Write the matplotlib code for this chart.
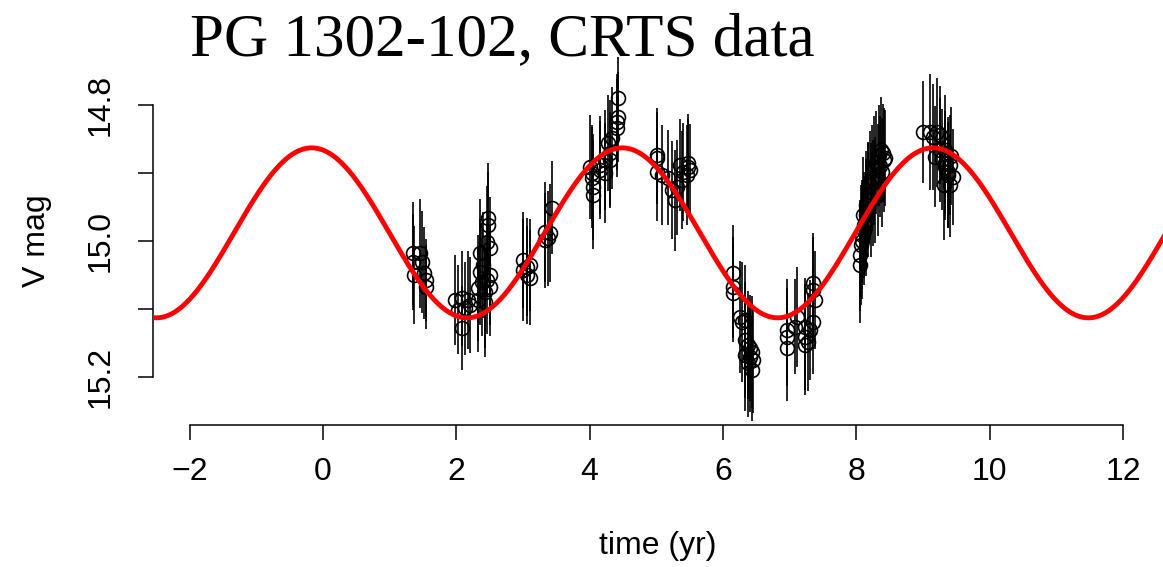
import numpy as np
import matplotlib
matplotlib.use('Agg')
from matplotlib import pyplot as plt

# CRTS light curve of PG 1302-102
t_yr = [
    # season 1
    1.35, 1.45, 1.35, 1.49, 1.36, 1.52, 1.55, 1.55,
    # season 2
    1.98, 2.085, 2.175, 2.03, 2.13, 2.20, 2.085,
    2.47, 2.47, 2.46, 2.50, 2.35, 2.35, 2.50, 2.46, 2.32, 2.43, 2.32, 2.43, 2.50, 2.40, 2.38,
    # season 3
    3.00, 3.06, 3.10, 3.00, 3.10, 3.06, 3.33, 3.40, 3.43, 3.33, 3.37,
    # season 4
    4.42, 4.42, 4.41, 4.41, 4.33, 4.27, 4.30, 4.23, 4.15, 4.00, 4.03, 4.04, 4.05, 4.05, 4.15, 4.23, 4.30,
    # season 5
    5.01, 5.01, 5.01, 5.08, 5.175, 5.24, 5.28, 5.36, 5.40, 5.47, 5.46, 5.39, 5.31, 5.47, 5.50,
    # season 6
    6.15, 6.15, 6.15, 6.28, 6.33, 6.25, 6.33, 6.375, 6.40, 6.43, 6.40, 6.45, 6.33, 6.375, 6.43,
    # season 7
    6.96, 6.96, 6.96, 7.08, 7.11, 7.23, 7.23, 7.23, 7.27, 7.35, 7.35, 7.38, 7.35, 7.30,
    # season 8
    8.05, 8.05, 8.07, 8.09, 8.12, 8.10, 8.15, 8.14, 8.18, 8.20, 8.17, 8.24, 8.27, 8.30,
    8.34, 8.37, 8.40, 8.41, 8.38, 8.33, 8.28, 8.22, 8.12, 8.08, 8.15, 8.25, 8.35, 8.43,
    # season 9
    9.00, 9.10, 9.21, 9.25, 9.15, 9.18, 9.25, 9.33, 9.33, 9.37, 9.33, 9.40, 9.45, 9.40,
    9.31, 9.37, 9.28, 9.42,
]

v_mag = [
    15.018, 15.018, 15.031, 15.031, 15.050, 15.047, 15.057, 15.068,
    15.087, 15.084, 15.087, 15.101, 15.099, 15.094, 15.128,
    14.966, 14.976, 15.001, 15.010, 15.018, 15.046, 15.050, 15.057, 15.069, 15.075, 15.087, 15.090, 15.068, 15.035, 15.060,
    15.028, 15.038, 15.035, 15.043, 15.054, 15.050, 14.999, 14.988, 14.951, 14.987, 14.996,
    14.790, 14.818, 14.825, 14.834, 14.849, 14.856, 14.871, 14.881, 14.888, 14.891, 14.900, 14.907, 14.921, 14.932, 14.896, 14.900, 14.881,
    14.874, 14.878, 14.899, 14.903, 14.907, 14.925, 14.940, 14.888, 14.899, 14.891, 14.903, 14.910, 14.921, 14.885, 14.896,
    15.047, 15.068, 15.076, 15.119, 15.116, 15.112, 15.146, 15.153, 15.157, 15.163, 15.171, 15.175, 15.168, 15.179, 15.190,
    15.131, 15.141, 15.157, 15.126, 15.112, 15.126, 15.141, 15.153, 15.149, 15.062, 15.072, 15.087, 15.119, 15.131,
    15.035, 15.021, 15.006, 14.991, 14.976, 14.962, 14.947, 14.962, 14.932, 14.918, 14.940, 14.907, 14.896, 14.885,
    14.874, 14.866, 14.871, 14.881, 14.899, 14.910, 14.925, 14.940, 14.985, 15.000, 14.970, 14.930, 14.890, 14.878,
    14.840, 14.840, 14.840, 14.844, 14.847, 14.876, 14.866, 14.866, 14.891, 14.899, 14.885, 14.888, 14.906, 14.918,
    14.918, 14.903, 14.880, 14.875,
]

v_err = [
    0.076, 0.080, 0.070, 0.075, 0.072, 0.068, 0.060, 0.062,
    0.066, 0.070, 0.072, 0.065, 0.068, 0.070, 0.062,
    0.080, 0.078, 0.082, 0.075, 0.080, 0.078, 0.074, 0.080, 0.078, 0.082, 0.076, 0.080, 0.072, 0.078, 0.080,
    0.070, 0.072, 0.068, 0.075, 0.070, 0.072, 0.070, 0.072, 0.068, 0.074, 0.070,
    0.060, 0.066, 0.070, 0.072, 0.075, 0.070, 0.078, 0.074, 0.072, 0.076, 0.070, 0.074, 0.078, 0.080, 0.072, 0.074, 0.070,
    0.070, 0.068, 0.072, 0.074, 0.070, 0.072, 0.074, 0.068, 0.072, 0.070, 0.074, 0.072, 0.070, 0.072, 0.068,
    0.070, 0.074, 0.072, 0.088, 0.080, 0.082, 0.085, 0.080, 0.078, 0.082, 0.080, 0.078, 0.082, 0.080, 0.075,
    0.075, 0.072, 0.078, 0.070, 0.074, 0.072, 0.078, 0.074, 0.072, 0.074, 0.078, 0.072, 0.076, 0.074,
    0.085, 0.082, 0.088, 0.080, 0.078, 0.085, 0.080, 0.082, 0.078, 0.080, 0.084, 0.078, 0.080, 0.076,
    0.074, 0.078, 0.072, 0.076, 0.080, 0.082, 0.078, 0.084, 0.080, 0.086, 0.082, 0.078, 0.074, 0.070,
    0.075, 0.085, 0.080, 0.072, 0.078, 0.074, 0.076, 0.080, 0.078, 0.082, 0.076, 0.074, 0.070, 0.076,
    0.080, 0.078, 0.074, 0.072,
]

# sinusoid fit drawn in red
fit_mean = 14.988
fit_amp = 0.125
fit_period = 4.66
fit_tpeak = -0.17

x_ticks = [-2, 0, 2, 4, 6, 8, 10, 12]
y_ticks = [14.8, 14.9, 15.0, 15.1, 15.2]
y_ticklabels = ['14.8', '', '15.0', '', '15.2']

plt.rcParams['font.family'] = ['Liberation Sans', 'DejaVu Sans']

fig = plt.figure(figsize=(11.63, 5.67), dpi=100)
ax = fig.add_axes([153 / 1163, 142 / 567, 1010 / 1163, 368 / 567])

ax.errorbar(t_yr, v_mag, yerr=v_err, fmt='o', ms=10, mfc='none', mec='black',
            mew=1.2, ecolor='black', elinewidth=1.2, capsize=0, zorder=2)

tt = np.linspace(-2.6, 12.7, 800)
ax.plot(tt, fit_mean - fit_amp * np.cos(2 * np.pi * (tt - fit_tpeak) / fit_period),
        color='#ff0000', lw=3.5, zorder=3)

ax.set_xlim(-2.55, 12.6)
ax.set_ylim(15.2706, 14.7294)

for s in ['top', 'right']:
    ax.spines[s].set_visible(False)
ax.spines['left'].set_bounds(14.8, 15.2)
ax.spines['bottom'].set_bounds(-2, 12)
for s in ['left', 'bottom']:
    ax.spines[s].set_linewidth(1.1)

ax.set_xticks(x_ticks)
ax.set_xticklabels(['\u22122' if v < 0 else str(v) for v in x_ticks])
ax.set_yticks(y_ticks)
ax.set_yticklabels(y_ticklabels, rotation=90, va='center')
ax.tick_params(axis='both', length=11, width=1.1, labelsize=23)
ax.tick_params(axis='x', pad=12)
ax.tick_params(axis='y', pad=16)

ax.set_xlabel('time (yr)', fontsize=23, labelpad=32)
ax.set_ylabel('V mag', fontsize=23, labelpad=24)

fig.text(190 / 1163, 1 - 55 / 567, 'PG 1302-102, CRTS data', fontsize=44,
         family=['Liberation Serif', 'DejaVu Serif'], ha='left', va='baseline')

fig.savefig('out.png', dpi=100)
